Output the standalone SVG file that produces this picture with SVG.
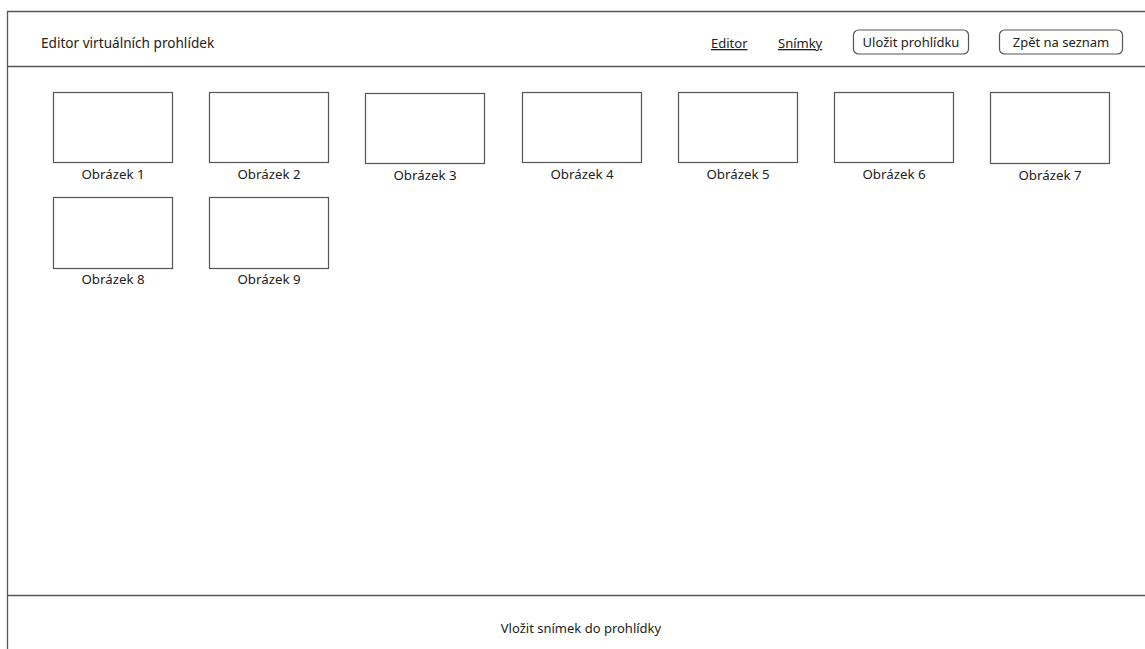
<svg xmlns="http://www.w3.org/2000/svg" width="1145" height="649" viewBox="0 0 1145 649">
  <style>
    .frame { fill: none; stroke: #555; stroke-width: 1.3; }
    .thumb { fill: #fff; stroke: #555; stroke-width: 1.2; }
    .btn { fill: #fff; stroke: #555; stroke-width: 1.2; }
    .txt { font-family: "Noto Sans", "Open Sans", sans-serif; font-size: 13px; fill: #222; }
    .title { font-size: 13.6px; }
    .lbl { font-family: "Noto Sans", "Open Sans", sans-serif; font-size: 13.3px; fill: #222; text-anchor: middle; }
    .link { text-decoration: underline; }
  </style>
  <rect width="1145" height="649" fill="#fff"/>

  <!-- window frame -->
  <g id="frame">
    <path class="frame" d="M1145 11.5 H7.5 V649"/>
    <line class="frame" x1="7.5" y1="66.5" x2="1145" y2="66.5"/>
    <line class="frame" x1="7.5" y1="595.5" x2="1145" y2="595.5"/>
  </g>

  <!-- header bar -->
  <g id="header">
    <text class="txt title" x="41" y="48">Editor virtuálních prohlídek</text>
    <text class="txt link" x="711" y="48">Editor</text>
    <text class="txt link" x="778" y="48">Snímky</text>
    <g id="btn-save">
      <rect class="btn" x="853.5" y="30" width="115" height="24" rx="5"/>
      <text class="txt" x="911" y="46.5" text-anchor="middle">Uložit prohlídku</text>
    </g>
    <g id="btn-back">
      <rect class="btn" x="999.5" y="30" width="123" height="24" rx="5"/>
      <text class="txt" x="1061" y="46.5" text-anchor="middle">Zpět na seznam</text>
    </g>
  </g>

  <!-- image thumbnails -->
  <g id="img1"><rect class="thumb" x="53.5" y="92.5" width="119" height="70"/><text class="lbl" x="113" y="179">Obrázek 1</text></g>
  <g id="img2"><rect class="thumb" x="209.5" y="92.5" width="119" height="70"/><text class="lbl" x="269" y="179">Obrázek 2</text></g>
  <g id="img3"><rect class="thumb" x="365.5" y="93.5" width="119" height="70"/><text class="lbl" x="425" y="180">Obrázek 3</text></g>
  <g id="img4"><rect class="thumb" x="522.5" y="92.5" width="119" height="70"/><text class="lbl" x="582" y="179">Obrázek 4</text></g>
  <g id="img5"><rect class="thumb" x="678.5" y="92.5" width="119" height="70"/><text class="lbl" x="738" y="179">Obrázek 5</text></g>
  <g id="img6"><rect class="thumb" x="834.5" y="92.5" width="119" height="70"/><text class="lbl" x="894" y="179">Obrázek 6</text></g>
  <g id="img7"><rect class="thumb" x="990.5" y="92.5" width="119" height="71"/><text class="lbl" x="1050" y="180">Obrázek 7</text></g>
  <g id="img8"><rect class="thumb" x="53.5" y="197.5" width="119" height="71"/><text class="lbl" x="113" y="284">Obrázek 8</text></g>
  <g id="img9"><rect class="thumb" x="209.5" y="197.5" width="119" height="71"/><text class="lbl" x="269" y="284">Obrázek 9</text></g>

  <!-- footer action -->
  <g id="footer">
    <text class="txt" x="581" y="633" text-anchor="middle">Vložit snímek do prohlídky</text>
  </g>
</svg>
